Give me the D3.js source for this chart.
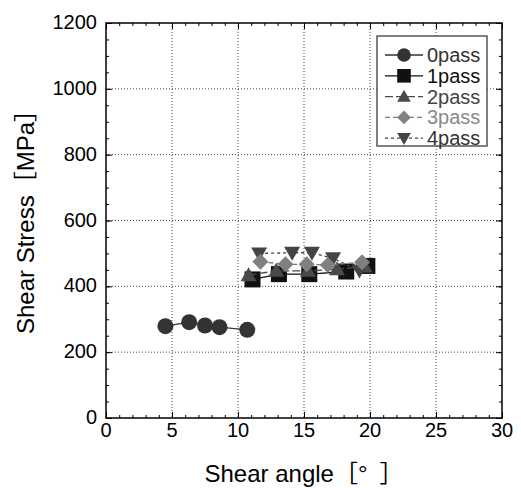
<!DOCTYPE html>
<html>
<head>
<meta charset="utf-8">
<script src="https://cdn.jsdelivr.net/npm/d3@7"></script>
<style>
  html, body { margin: 0; padding: 0; background: #fff; }
  svg { display: block; }
  text { font-family: "Liberation Sans", Arial, "Noto Sans CJK JP", sans-serif; }
</style>
</head>
<body>
<svg id="chart" width="521" height="488"></svg>
<script>
// Shear stress versus shear angle after 0–4 passes
const passNames = ["0pass", "1pass", "2pass", "3pass", "4pass"];
const angle0 = [4.5, 6.3, 7.5, 8.6, 10.7];
const stress0 = [279, 291, 281, 276, 268];
const angle1 = [11.1, 13.1, 15.4, 18.2, 19.8];
const stress1 = [421, 437, 437, 445, 462];
const angle2 = [10.8, 12.9, 15.3, 17.5, 19.6];
const stress2 = [434, 447, 447, 452, 460];
const angle3 = [11.7, 13.6, 15.2, 16.8, 19.4];
const stress3 = [475, 467, 467, 465, 473];
const angle4 = [11.6, 14.1, 15.6, 17.2, 19.2];
const stress4 = [500, 502, 502, 485, 448];
const xTicks = [0, 5, 10, 15, 20, 25, 30];
const yTicks = [0, 200, 400, 600, 800, 1000, 1200];

const series = [
  { name: passNames[0], x: angle0, y: stress0, shape: "circle",   fill: "#333333", dash: null,    text: "#333333" },
  { name: passNames[1], x: angle1, y: stress1, shape: "square",   fill: "#111111", dash: null,    text: "#111111" },
  { name: passNames[2], x: angle2, y: stress2, shape: "triUp",    fill: "#4a4a4a", dash: "8,3",   text: "#444444" },
  { name: passNames[4], x: angle4, y: stress4, shape: "triDown",  fill: "#444444", dash: "3,3",   text: "#333333" },
  { name: passNames[3], x: angle3, y: stress3, shape: "diamond",  fill: "#808080", dash: "5,3",   text: "#888888" }
];

const svg = d3.select("#chart");
const L = 106, R = 502, T = 23, B = 418;
const x = d3.scaleLinear().domain([0, 30]).range([L, R]);
const y = d3.scaleLinear().domain([0, 1200]).range([B, T]);

// dotted grid at interior major ticks
const grid = svg.append("g").attr("stroke", "#444").attr("stroke-width", 1).attr("stroke-dasharray", "1,2");
xTicks.slice(1, -1).forEach(v => grid.append("line")
  .attr("x1", x(v)).attr("x2", x(v)).attr("y1", T).attr("y2", B));
yTicks.slice(1, -1).forEach(v => grid.append("line")
  .attr("x1", L).attr("x2", R).attr("y1", y(v)).attr("y2", y(v)));

// inward ticks on all four sides: minor every 1° / 50 MPa, major at labels
const xMinor = d3.range(0, 31, 1), yMinor = d3.range(0, 1201, 50);
function tickAxis(axisFn, scale, vals, size, tx, ty) {
  svg.append("g").attr("transform", `translate(${tx},${ty})`)
    .call(axisFn(scale).tickValues(vals).tickSize(size).tickFormat(""))
    .call(g => g.select(".domain").remove())
    .call(g => g.selectAll("line").attr("stroke", "#000").attr("stroke-width", 1));
}
tickAxis(d3.axisBottom, x, xMinor, -3, 0, B);
tickAxis(d3.axisBottom, x, xTicks, -6, 0, B);
tickAxis(d3.axisTop, x, xMinor, -3, 0, T);
tickAxis(d3.axisTop, x, xTicks, -6, 0, T);
tickAxis(d3.axisLeft, y, yMinor, -3, L, 0);
tickAxis(d3.axisLeft, y, yTicks, -6, L, 0);
tickAxis(d3.axisRight, y, yMinor, -3, R, 0);
tickAxis(d3.axisRight, y, yTicks, -6, R, 0);

// frame
svg.append("rect").attr("x", L).attr("y", T).attr("width", R - L).attr("height", B - T)
  .attr("fill", "none").attr("stroke", "#000").attr("stroke-width", 1.5);

// tick labels
svg.append("g").selectAll("text").data(xTicks).join("text")
  .attr("x", d => x(d)).attr("y", 437).attr("text-anchor", "middle")
  .attr("font-size", 20).attr("fill", "#000").text(d => d);
svg.append("g").selectAll("text").data(yTicks).join("text")
  .attr("x", 97).attr("y", d => y(d) - 1).attr("dy", "0.35em").attr("text-anchor", "end")
  .attr("font-size", 20).attr("fill", "#000").text(d => d);

// axis titles
svg.append("text").attr("x", 304).attr("y", 482).attr("text-anchor", "middle")
  .attr("font-size", 24).attr("fill", "#000").text("Shear angle［°\u2002］");
svg.append("text").attr("transform", "translate(34,216) rotate(-90)").attr("text-anchor", "middle")
  .attr("font-size", 24).attr("fill", "#000").text("Shear Stress［MPa］");

// marker drawing
function marker(g, shape, cx, cy, fill, s) {
  const k = s || 1;
  if (shape === "circle") {
    g.append("circle").attr("cx", cx).attr("cy", cy).attr("r", 8 * k).attr("fill", fill);
  } else if (shape === "square") {
    g.append("rect").attr("x", cx - 8 * k).attr("y", cy - 8 * k).attr("width", 16 * k).attr("height", 16 * k).attr("fill", fill);
  } else if (shape === "triUp") {
    g.append("path").attr("d", `M${cx},${cy - 8 * k}L${cx + 8 * k},${cy + 6 * k}L${cx - 8 * k},${cy + 6 * k}Z`).attr("fill", fill);
  } else if (shape === "triDown") {
    g.append("path").attr("d", `M${cx},${cy + 8 * k}L${cx + 8 * k},${cy - 6 * k}L${cx - 8 * k},${cy - 6 * k}Z`).attr("fill", fill);
  } else if (shape === "diamond") {
    g.append("path").attr("d", `M${cx},${cy - 8 * k}L${cx + 8 * k},${cy}L${cx},${cy + 8 * k}L${cx - 8 * k},${cy}Z`).attr("fill", fill);
  }
}

const line = d3.line().x(d => x(d[0])).y(d => y(d[1]));
series.forEach(s => {
  const pts = s.x.map((v, i) => [v, s.y[i]]);
  const g = svg.append("g");
  g.append("path").attr("d", line(pts)).attr("fill", "none")
    .attr("stroke", s.fill).attr("stroke-width", 1.3)
    .attr("stroke-dasharray", s.dash);
  pts.forEach(p => marker(g, s.shape, x(p[0]), y(p[1]), s.fill));
});

// legend
const legendOrder = [0, 1, 2, 4, 3];
const lg = svg.append("g");
lg.append("rect").attr("x", 377).attr("y", 36).attr("width", 110).attr("height", 110)
  .attr("fill", "#fff").attr("stroke", "#555").attr("stroke-width", 1.5);
legendOrder.forEach((si, i) => {
  const s = series[si];
  const cy = 55 + i * 20.8;
  lg.append("line").attr("x1", 385).attr("x2", 423).attr("y1", cy).attr("y2", cy)
    .attr("stroke", s.fill).attr("stroke-width", 1.3).attr("stroke-dasharray", s.dash);
  marker(lg, s.shape, 404, cy, s.fill, 0.85);
  lg.append("text").attr("x", 427).attr("y", cy).attr("dy", "0.35em")
    .attr("font-size", 20).attr("fill", s.text).text(s.name);
});
</script>
</body>
</html>
